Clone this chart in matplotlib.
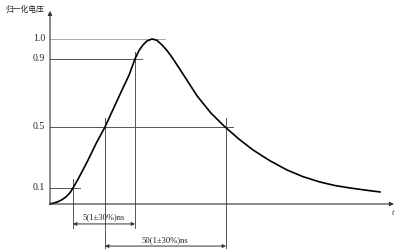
import numpy as np
import matplotlib
matplotlib.use('Agg')
import matplotlib.pyplot as plt

plt.rcParams['font.family'] = ['Liberation Serif', 'Noto Sans CJK SC', 'DejaVu Sans']

# normalised voltage pulse (t in arbitrary units)
t = [0, 4, 8, 12, 16, 20, 23, 28, 33, 38, 46, 55, 63, 72, 79, 85, 89, 93,
     97, 102, 107, 112, 117, 121, 125, 136, 147, 161, 175, 189, 203, 220,
     237, 253, 270, 285, 300, 315, 330]
v = [0.0, 0.006, 0.014, 0.027, 0.044, 0.07, 0.1, 0.157, 0.219, 0.282,
     0.39, 0.5, 0.602, 0.717, 0.804, 0.9, 0.942, 0.97, 0.99, 1.0, 0.993,
     0.97, 0.942, 0.915, 0.883, 0.784, 0.683, 0.581, 0.5, 0.42, 0.349,
     0.278, 0.218, 0.174, 0.139, 0.116, 0.1, 0.087, 0.075]

levels = [0.1, 0.5, 0.9, 1.0]
level_labels = ['0.1', '0.5', '0.9', '1.0']
level_ends = [30, 183, 92, 115]

# drawing is schematic: tick spacing on the y axis is not quite linear
scale_v = [-1.0, 0.0, 0.1, 0.5, 0.9, 1.0, 2.0]
scale_f = [-1.0, 0.0, 0.097, 0.467, 0.879, 1.0, 2.0]


def fwd(x):
    return np.interp(x, scale_v, scale_f)


def inv(x):
    return np.interp(x, scale_f, scale_v)


fig = plt.figure(figsize=(4, 2.52), dpi=100)
ax = fig.add_axes([0, 0, 1, 1])
ax.set_yscale('function', functions=(fwd, inv))
ax.set_xlim(-50, 350)
ax.set_ylim(-0.291, 1.236)
ax.axis('off')

grey = '#555555'

# axes with arrows
ax.annotate('', xy=(0, 1.17), xytext=(0, 0),
            arrowprops=dict(arrowstyle='-|>', lw=0.8, color='#333333',
                            mutation_scale=6, shrinkA=0, shrinkB=0))
ax.annotate('', xy=(344, 0), xytext=(0, 0),
            arrowprops=dict(arrowstyle='-|>', lw=0.8, color='#333333',
                            mutation_scale=6, shrinkA=0, shrinkB=0))
ax.text(-45, 1.175, '归一化电压', fontsize=5.6, family=['Noto Sans CJK SC'],
        va='center', ha='left', color='#222222')
ax.text(343, -0.055, 't', fontsize=6, style='italic', color='#333333',
        ha='center', va='center')

# level lines and labels
for lv, lab, end in zip(levels, level_labels, level_ends):
    c = '#aaaaaa' if lv == 1.0 else grey
    ax.plot([0, end], [lv, lv], color=c, lw=0.7)
    ax.text(-5, lv, lab, fontsize=7, ha='right', va='center', color='#222222')

# vertical markers
ax.plot([23, 23], [0.159, -0.145], color=grey, lw=0.7)
ax.plot([55, 55], [0.552, -0.267], color=grey, lw=0.7)
ax.plot([85, 85], [0.935, -0.145], color=grey, lw=0.7)
ax.plot([176, 176], [0.552, -0.267], color=grey, lw=0.7)

# the pulse
ax.plot(t, v, color='black', lw=1.2)

# dimension arrows
arr = dict(arrowstyle='<|-|>', lw=0.7, color='#333333', mutation_scale=5,
           shrinkA=0, shrinkB=0)
ax.annotate('', xy=(23, -0.121), xytext=(85, -0.121), arrowprops=arr)
ax.annotate('', xy=(55, -0.255), xytext=(176, -0.255), arrowprops=arr)
ax.text(54, -0.08, '5(1±30%)ns', fontsize=6.2, ha='center', va='center',
        color='#222222')
ax.text(115, -0.22, '50(1±30%)ns', fontsize=6.2, ha='center', va='center',
        color='#222222')

fig.savefig('out.png', dpi=100)
